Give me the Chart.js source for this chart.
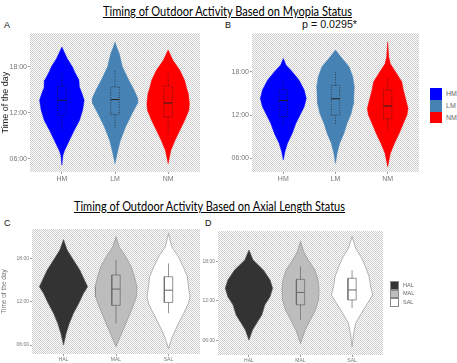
<!DOCTYPE html>
<html><head><meta charset="utf-8">
<script src="https://cdn.jsdelivr.net/npm/chart.js@4.4.0/dist/chart.umd.min.js"></script>
<style>
body{margin:0;width:457px;height:363px;background:#fff;position:relative;overflow:hidden;font-family:"Liberation Sans",Arial,sans-serif;}
.t{position:absolute;white-space:nowrap;line-height:1;transform-origin:0 50%;}
.title{font-family:Lato,"Open Sans",sans-serif;font-size:13px;text-decoration:underline;color:#000;}
.lab{font-size:9px;color:#111;}
.leg{position:absolute;}
canvas{position:absolute;}
</style></head><body>
<div class="t title" id="title1" data-w="249" style="left:103px;top:5px;">Timing of Outdoor Activity Based on Myopia Status</div>
<div class="t title" id="title2" data-w="271" style="left:74px;top:200px;">Timing of Outdoor Activity Based on Axial Length Status</div>
<div class="t lab" style="left:4px;top:21px;">A</div>
<div class="t lab" style="left:225px;top:21px;">B</div>
<div class="t lab" style="left:4px;top:219px;">C</div>
<div class="t lab" style="left:205px;top:219px;">D</div>
<div class="t" id="pval" data-w="55" style="left:302px;top:19px;font-size:11px;color:#111;">p = 0.0295*</div>
<script>
// ---------- data ----------
const myopiaGroups = ['HM', 'LM', 'NM'];
const axialGroups = ['HAL', 'MAL', 'SAL'];
const tickHours = [6, 12, 18];

// violin profiles: time of day (hours) and half-width (density, category units)
// Panel A
const A_HM_t = [5.2, 6.5, 7.1, 8.4, 9.7, 11.0, 12.35, 13.65, 14.5, 15.4, 16.3, 17.35, 18.0, 19.1, 19.7, 20.6];
const A_HM_w = [0, 0.02, 0.05, 0.14, 0.23, 0.33, 0.39, 0.42, 0.38, 0.33, 0.32, 0.24, 0.20, 0.10, 0.06, 0];
const A_LM_t = [5.4, 6.7, 8.4, 10.2, 11.9, 13.2, 13.87, 14.96, 16.26, 18.0, 19.74, 20.6, 21.26];
const A_LM_w = [0, 0.04, 0.10, 0.20, 0.32, 0.42, 0.43, 0.36, 0.26, 0.14, 0.08, 0.03, 0];
const A_NM_t = [5.4, 7.1, 8.43, 9.74, 11.0, 12.35, 13.2, 14.5, 15.17, 16.26, 17.57, 18.87, 20.2];
const A_NM_w = [0, 0.05, 0.13, 0.22, 0.31, 0.39, 0.40, 0.38, 0.35, 0.31, 0.22, 0.09, 0];
// Panel B
const B_HM_t = [5.8, 6.94, 8.1, 9.47, 10.85, 12.0, 13.15, 14.3, 15.45, 16.83, 17.98, 18.9, 19.8];
const B_HM_w = [0, 0.03, 0.08, 0.17, 0.24, 0.32, 0.40, 0.44, 0.40, 0.30, 0.17, 0.05, 0];
const B_LM_t = [5.33, 6.7, 8.1, 9.47, 10.85, 12.2, 13.5, 14.5, 15.9, 17.3, 18.67, 20.05, 20.97];
const B_LM_w = [0, 0.03, 0.08, 0.16, 0.22, 0.30, 0.34, 0.35, 0.36, 0.33, 0.26, 0.10, 0];
const B_NM_t = [4.87, 6.7, 8.1, 9.47, 10.85, 12.0, 12.9, 14.07, 15.45, 16.6, 17.75, 19.1, 20.0, 22.1];
const B_NM_w = [0, 0.05, 0.13, 0.22, 0.30, 0.37, 0.39, 0.35, 0.30, 0.27, 0.17, 0.05, 0.02, 0];
// Panel C
const C_HAL_t = [6.0, 7.6, 9.0, 10.4, 11.77, 13.15, 14.08, 15.0, 16.4, 17.77, 19.15, 20.6];
const C_HAL_w = [0, 0.05, 0.11, 0.19, 0.29, 0.38, 0.46, 0.40, 0.31, 0.19, 0.07, 0];
const C_MAL_t = [5.77, 7.15, 8.5, 9.9, 11.3, 12.7, 14.08, 15.46, 16.85, 18.2, 19.6, 21.0];
const C_MAL_w = [0, 0.08, 0.16, 0.24, 0.32, 0.39, 0.40, 0.35, 0.29, 0.19, 0.06, 0];
const C_SAL_t = [5.5, 6.7, 7.6, 9.0, 10.4, 11.77, 12.7, 14.08, 15.46, 16.85, 18.2, 19.6, 21.46];
const C_SAL_w = [0, 0.05, 0.10, 0.19, 0.29, 0.38, 0.41, 0.38, 0.36, 0.28, 0.19, 0.06, 0];
// Panel D
const D_HAL_t = [6.0, 7.56, 8.6, 9.86, 11.4, 12.66, 13.94, 15.2, 16.74, 18.27, 19.8];
const D_HAL_w = [0, 0.07, 0.15, 0.25, 0.31, 0.41, 0.46, 0.41, 0.28, 0.08, 0];
const D_MAL_t = [5.5, 7.56, 9.1, 10.6, 12.15, 13.68, 15.2, 16.74, 18.27, 19.55, 21.1];
const D_MAL_w = [0, 0.09, 0.19, 0.29, 0.35, 0.36, 0.34, 0.28, 0.15, 0.06, 0];
const D_SAL_t = [5.0, 7.05, 8.6, 10.1, 11.64, 12.9, 14.2, 15.7, 17.26, 18.8, 20.06, 21.85];
const D_SAL_w = [0, 0.03, 0.07, 0.18, 0.30, 0.40, 0.36, 0.33, 0.26, 0.17, 0.07, 0];

// box stats: [lower whisker, Q1, median, Q3, upper whisker]
const A_box = [[9.7, 11.7, 13.65, 15.5, 17.4], [10.0, 11.8, 13.75, 15.4, 17.6], [9.3, 11.5, 13.3, 15.5, 17.3]];
const B_box = [[10.6, 11.8, 14.0, 15.5, 16.8], [10.8, 12.0, 14.25, 16.1, 18.0], [9.9, 11.5, 13.25, 15.45, 17.1]];
const C_box = [[10.0, 11.8, 13.7, 15.3, 17.3], [9.0, 11.5, 13.75, 15.7, 17.8], [10.4, 11.9, 13.6, 15.46, 17.3]];
const D_box = [[10.0, 11.6, 13.7, 15.3, 17.2], [9.1, 11.4, 13.3, 15.3, 17.3], [10.9, 12.15, 13.68, 15.47, 16.7]];

// ---------- styling ----------
const myopiaColors = ['#0000FF', '#4682B4', '#FF0000'];
const axialColors = ['#333333', '#BDBDBD', '#FFFFFF'];

// background texture
const pc = document.createElement('canvas'); pc.width = 2; pc.height = 2;
const pctx = pc.getContext('2d');
pctx.fillStyle = '#ffffff'; pctx.fillRect(0, 0, 2, 2);
pctx.fillStyle = '#cdcdcd'; pctx.fillRect(0, 0, 1, 1); pctx.fillRect(1, 1, 1, 1);

const bgPlugin = {
  id: 'bgTexture',
  beforeDraw(chart) {
    const {ctx, chartArea: a} = chart;
    ctx.save();
    ctx.fillStyle = ctx.createPattern(pc, 'repeat');
    ctx.fillRect(a.left, a.top, a.right - a.left, a.bottom - a.top);
    ctx.restore();
  }
};

function hh(v) { return (v < 10 ? '0' : '') + v + ':00'; }

function buildPanel(cfg) {
  const canvas = document.createElement('canvas');
  canvas.width = cfg.w; canvas.height = cfg.h;
  canvas.style.left = cfg.left + 'px'; canvas.style.top = cfg.top + 'px';
  canvas.style.width = cfg.w + 'px'; canvas.style.height = cfg.h + 'px';
  document.body.appendChild(canvas);
  const datasets = [];
  cfg.groups.forEach((name, i) => {
    const c = i + 1;
    const t = cfg.times[i], w = cfg.widths[i];
    const pts = [];
    for (let k = 0; k < t.length; k++) pts.push({x: c + w[k], y: t[k]});
    for (let k = t.length - 1; k >= 0; k--) pts.push({x: c - w[k], y: t[k]});
    datasets.push({label: name, data: pts, showLine: true, fill: 'shape', order: 2,
      backgroundColor: cfg.fills[i], borderColor: cfg.outline[i], borderWidth: cfg.vw,
      pointRadius: 0, tension: 0});
    const s = cfg.boxes[i], bw = cfg.bw;
    const line = {showLine: true, pointRadius: 0, borderWidth: 0.7, borderColor: cfg.boxColor[i],
      borderDash: cfg.dash, fill: false, order: 1};
    datasets.push(Object.assign({data: [{x: c, y: s[0]}, {x: c, y: s[1]}]}, line));
    datasets.push(Object.assign({data: [{x: c, y: s[3]}, {x: c, y: s[4]}]}, line));
    datasets.push(Object.assign({data: [{x: c - bw, y: s[1]}, {x: c + bw, y: s[1]}, {x: c + bw, y: s[3]}, {x: c - bw, y: s[3]}, {x: c - bw, y: s[1]}]}, line));
    datasets.push(Object.assign({}, line, {data: [{x: c - bw, y: s[2]}, {x: c + bw, y: s[2]}], borderDash: [], borderWidth: 1, order: 0}));
  });
  return new Chart(canvas, {
    type: 'scatter',
    data: {datasets},
    plugins: [bgPlugin],
    options: {
      responsive: false, animation: false, devicePixelRatio: 1,
      layout: {padding: {top: cfg.padTop, right: cfg.padRight, left: 0, bottom: 0}},
      plugins: {legend: {display: false}, tooltip: {enabled: false}},
      scales: {
        x: {type: 'linear', min: 0.4, max: 3.6,
          afterBuildTicks: s => { s.ticks = cfg.groups.map((g, i) => ({value: i + 1})); },
          afterFit: s => { s.height = cfg.xh; },
          ticks: {callback: v => cfg.groups[Math.round(v) - 1], font: {size: cfg.tf, family: 'Liberation Sans'},
            color: '#777', padding: 1, autoSkip: false, maxRotation: 0},
          grid: {drawOnChartArea: false, tickLength: 2, color: '#888', lineWidth: 0.8},
          border: {display: false}},
        y: {type: 'linear', min: cfg.ymin, max: cfg.ymax,
          afterBuildTicks: s => { s.ticks = tickHours.map(v => ({value: v})); },
          afterFit: s => { s.width = cfg.yw; },
          ticks: {callback: v => hh(v), font: {size: cfg.tf, family: 'Liberation Sans'}, color: '#777', padding: 1},
          grid: {drawOnChartArea: false, tickLength: 2, color: '#888', lineWidth: 0.8},
          border: {display: false},
          title: {display: !!cfg.ytitle, text: cfg.ytitle || '', padding: 0,
            font: {size: cfg.ytf, family: 'Liberation Sans'}, color: cfg.ytc}}
      }
    }
  });
}

buildPanel({left: 0, top: 28, w: 205, h: 157, padTop: 5, padRight: 5, yw: 30, xh: 13,
  ymin: 4.3, ymax: 22.4, groups: myopiaGroups,
  times: [A_HM_t, A_LM_t, A_NM_t], widths: [A_HM_w, A_LM_w, A_NM_w], boxes: A_box,
  fills: myopiaColors, outline: myopiaColors, vw: 0.5, bw: 0.08,
  boxColor: ['#222', '#222', '#222'], dash: [1, 1.5], tf: 7,
  ytitle: 'Time of the day', ytf: 9, ytc: '#222'});
buildPanel({left: 222, top: 28, w: 200, h: 157, padTop: 5, padRight: 3, yw: 30, xh: 13,
  ymin: 4.14, ymax: 23.3, groups: myopiaGroups,
  times: [B_HM_t, B_LM_t, B_NM_t], widths: [B_HM_w, B_LM_w, B_NM_w], boxes: B_box,
  fills: myopiaColors, outline: myopiaColors, vw: 0.5, bw: 0.08,
  boxColor: ['#222', '#222', '#222'], dash: [1, 1.5], tf: 7});
buildPanel({left: 0, top: 224, w: 205, h: 139, padTop: 5, padRight: 5, yw: 32, xh: 9,
  ymin: 4.76, ymax: 22.07, groups: axialGroups,
  times: [C_HAL_t, C_MAL_t, C_SAL_t], widths: [C_HAL_w, C_MAL_w, C_SAL_w], boxes: C_box,
  fills: axialColors, outline: ['#555', '#888', '#888'], vw: 0.6, bw: 0.08,
  boxColor: ['#333', '#666', '#666'], dash: [], tf: 5,
  ytitle: 'Time of the day', ytf: 6.5, ytc: '#777'});
buildPanel({left: 200, top: 224, w: 186, h: 139, padTop: 7, padRight: 3, yw: 18, xh: 8,
  ymin: 3.73, ymax: 22.7, groups: axialGroups,
  times: [D_HAL_t, D_MAL_t, D_SAL_t], widths: [D_HAL_w, D_MAL_w, D_SAL_w], boxes: D_box,
  fills: axialColors, outline: ['#555', '#888', '#888'], vw: 0.6, bw: 0.08,
  boxColor: ['#333', '#666', '#666'], dash: [], tf: 5});

// legends
function legend(groups, colors, x, y, bw, bh, fs, borders) {
  groups.forEach((g, i) => {
    const b = document.createElement('div');
    b.className = 'leg';
    b.style.cssText = `left:${x}px;top:${y + i * bh}px;width:${bw}px;height:${bh}px;background:${colors[i]};box-sizing:border-box;` +
      (borders ? `border:0.8px solid #888;` : '');
    document.body.appendChild(b);
    const l = document.createElement('div');
    l.className = 't';
    l.textContent = g;
    l.style.cssText += `left:${x + bw + 4}px;top:${y + i * bh + bh / 2 - fs / 2}px;font-size:${fs}px;color:#666;`;
    document.body.appendChild(l);
  });
}
legend(myopiaGroups, myopiaColors, 430, 88, 12, 11.8, 7, false);
legend(axialGroups, axialColors, 390, 281, 9, 8.7, 5.5, true);

// fit title widths
document.querySelectorAll('[data-w]').forEach(el => {
  const w = el.getBoundingClientRect().width;
  el.style.transform = `scaleX(${el.dataset.w / w})`;
});
</script>
</body></html>
